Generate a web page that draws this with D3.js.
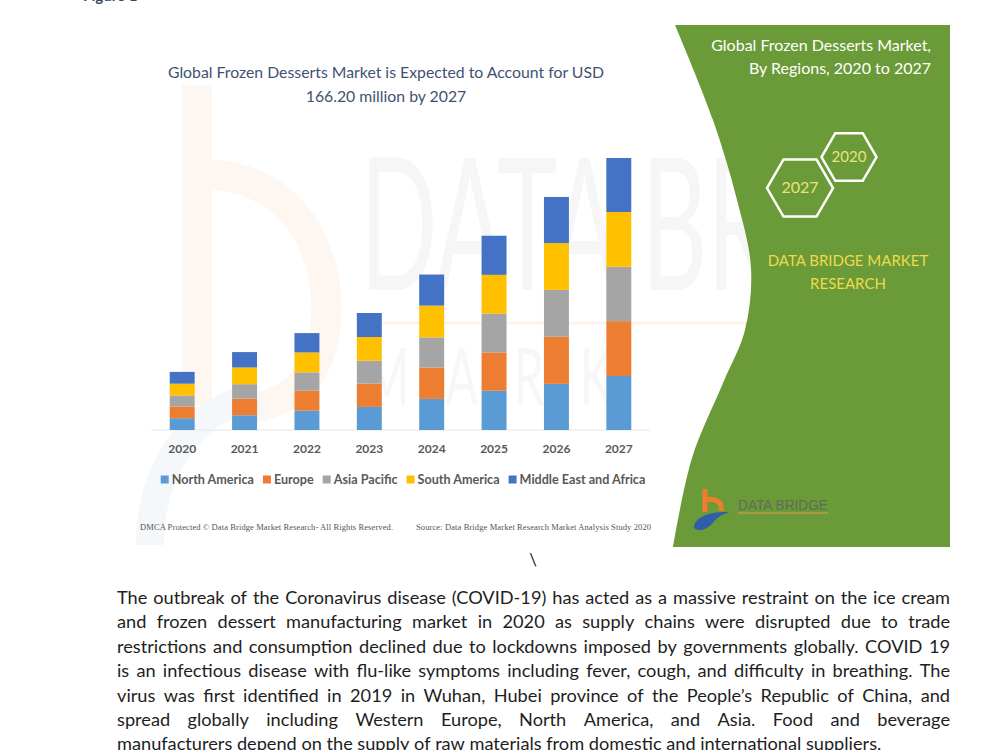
<!DOCTYPE html>
<html lang="en">
  <head>
    <meta charset="UTF-8">
    <title>Global Frozen Desserts Market</title>
    <script src="https://cdn.jsdelivr.net/npm/d3@7"></script>
    <style>
      html, body {
        margin: 0;
        padding: 0;
        background: #fff;
        overflow: hidden;
      }
      svg {
        display: block;
        font-family: Lato, 'Open Sans', sans-serif;
      }
    </style>
  </head>
  <body>
    <svg id="chart" width="1000" height="750"></svg>
    <script>
      // values (USD million, stacked per region)
      const years = ['2020', '2021', '2022', '2023', '2024', '2025', '2026', '2027'];
      const regions = ['North America', 'Europe', 'Asia Pacific', 'South America', 'Middle East and Africa'];
      const regionColors = ['#5b9bd5', '#ed7d31', '#a5a5a5', '#ffc000', '#4472c4'];
      const northAmerica = [7.2, 9.0, 11.8, 14.1, 19.0, 24.0, 28.2, 33.0];
      const europe = [7.2, 10.2, 12.2, 14.3, 19.2, 23.4, 28.8, 33.5];
      const asiaPacific = [6.7, 8.8, 11.2, 13.9, 18.4, 23.7, 28.6, 33.2];
      const southAmerica = [7.2, 10.2, 12.2, 14.5, 19.4, 23.7, 28.6, 33.5];
      const middleEastAfrica = [7.2, 9.4, 11.8, 14.7, 19.0, 23.9, 28.2, 33.0];

      const titleLines = ['Global Frozen Desserts Market is Expected to Account for USD', '166.20 million by 2027'];
      const panelTitle = ['Global Frozen Desserts Market,', 'By Regions, 2020 to 2027'];
      const panelBrand = ['DATA BRIDGE MARKET', 'RESEARCH'];
      const paragraph = [
        'The outbreak of the Coronavirus disease (COVID-19) has acted as a massive restraint on the ice cream',
        'and frozen dessert manufacturing market in 2020 as supply chains were disrupted due to trade',
        'restrictions and consumption declined due to lockdowns imposed by governments globally. COVID 19',
        'is an infectious disease with flu-like symptoms including fever, cough, and difficulty in breathing. The',
        'virus was first identified in 2019 in Wuhan, Hubei province of the People\u2019s Republic of China, and',
        'spread globally including Western Europe, North America, and Asia. Food and beverage',
        'manufacturers depend on the supply of raw materials from domestic and international suppliers.'
      ];

      const svg = d3.select('#chart');
      const series = [northAmerica, europe, asiaPacific, southAmerica, middleEastAfrica];
      const rows = years.map((y, i) => {
        const r = { year: y };
        regions.forEach((reg, k) => { r[reg] = series[k][i]; });
        return r;
      });

      // ---- faint watermark behind the chart
      svg.append('clipPath')
        .attr('id', 'wm-clip')
        .append('rect')
        .attr('x', 0).attr('y', 0).attr('width', 760).attr('height', 560);
      const wm = svg.append('g').attr('clip-path', 'url(#wm-clip)');
      wm.append('path')
        .attr('d', 'M197,85 L197,405 M197,175 C290,170 335,250 325,330 C318,380 290,405 240,410')
        .attr('fill', 'none')
        .attr('stroke', '#fef6f0')
        .attr('stroke-width', 30);
      wm.append('path')
        .attr('d', 'M150,545 C150,470 190,410 260,395')
        .attr('fill', 'none')
        .attr('stroke', '#f5f8fb')
        .attr('stroke-width', 28);
      wm.append('text')
        .attr('transform', 'translate(360,290) scale(0.55,1)')
        .attr('font-size', 185)
        .attr('fill', '#f6f6f6')
        .text('DATA BR');
      wm.append('line')
        .attr('x1', 360).attr('x2', 760).attr('y1', 323).attr('y2', 323)
        .attr('stroke', '#fdf3ea').attr('stroke-width', 3);
      wm.append('text')
        .attr('transform', 'translate(365,405) scale(0.6,1)')
        .attr('font-size', 80)
        .attr('letter-spacing', 60)
        .attr('fill', '#f7f7f7')
        .text('MARK');

      // ---- green side panel
      const edge = [[675, 25], [713, 120], [737, 200], [751, 268], [745, 330], [723, 383], [692, 458], [673, 547]];
      const edgePath = d3.line().curve(d3.curveCatmullRom)(edge);
      svg.append('path')
        .attr('d', edgePath + ' L950,547 L950,25 Z')
        .attr('fill', '#6a9b38');

      // ---- chart title
      svg.append('g')
        .selectAll('text')
        .data(titleLines)
        .join('text')
        .attr('x', 386)
        .attr('y', (d, i) => 78 + i * 24)
        .attr('text-anchor', 'middle')
        .attr('font-size', 15.8)
        .attr('fill', '#3f5272')
        .text(d => d);

      // ---- stacked bars
      const x = d3.scaleBand()
        .domain(years)
        .range([151, 650])
        .paddingInner(0.6)
        .paddingOuter(0.3);
      const y = d3.scaleLinear()
        .domain([0, 166.2])
        .range([430, 158]);
      const color = d3.scaleOrdinal().domain(regions).range(regionColors);
      const stacked = d3.stack().keys(regions)(rows);

      svg.append('line')
        .attr('x1', 151).attr('x2', 650)
        .attr('y1', y(0)).attr('y2', y(0))
        .attr('stroke', '#e6e6e6');

      svg.append('g')
        .selectAll('g')
        .data(stacked)
        .join('g')
        .attr('fill', d => color(d.key))
        .selectAll('rect')
        .data(d => d)
        .join('rect')
        .attr('x', d => x(d.data.year))
        .attr('y', d => y(d[1]))
        .attr('width', x.bandwidth())
        .attr('height', d => y(d[0]) - y(d[1]));

      const xAxis = svg.append('g')
        .attr('transform', `translate(0,${y(0)})`)
        .call(d3.axisBottom(x).tickSize(0).tickPadding(14));
      xAxis.select('.domain').remove();
      xAxis.selectAll('text')
        .attr('font-family', 'Lato, sans-serif')
        .attr('font-size', 12)
        .attr('font-weight', 'bold')
        .attr('fill', '#595959');

      // ---- legend, centred under the bars
      const legend = svg.append('g').attr('transform', 'translate(0,484)');
      const items = legend.selectAll('g')
        .data(regions)
        .join('g');
      items.append('rect')
        .attr('y', -8.5)
        .attr('width', 8)
        .attr('height', 8)
        .attr('fill', d => color(d));
      items.append('text')
        .attr('x', 11)
        .attr('font-size', 12.6)
        .attr('font-weight', 'bold')
        .attr('fill', '#595959')
        .text(d => d);
      const widths = items.select('text').nodes().map(n => 11 + n.getComputedTextLength());
      const legendGap = 9;
      const legendWidth = d3.sum(widths) + legendGap * (widths.length - 1);
      let lx = 403 - legendWidth / 2;
      items.attr('transform', (d, i) => {
        const t = `translate(${lx},0)`;
        lx += widths[i] + legendGap;
        return t;
      });

      // ---- footer notes
      svg.append('text')
        .attr('x', 140).attr('y', 530)
        .attr('font-family', "'Liberation Serif', serif")
        .attr('font-size', 8.5)
        .attr('fill', '#555')
        .attr('textLength', 253)
        .text('DMCA Protected \u00a9 Data Bridge Market Research- All Rights Reserved.');
      svg.append('text')
        .attr('x', 416).attr('y', 530)
        .attr('font-family', "'Liberation Serif', serif")
        .attr('font-size', 8.5)
        .attr('fill', '#555')
        .attr('textLength', 235)
        .text('Source: Data Bridge Market Research Market Analysis Study 2020');

      // ---- panel texts and hexagons
      svg.append('g')
        .selectAll('text')
        .data(panelTitle)
        .join('text')
        .attr('x', 931)
        .attr('y', (d, i) => 51 + i * 23)
        .attr('text-anchor', 'end')
        .attr('font-size', 16)
        .attr('fill', '#fff')
        .text(d => d);

      const hexes = [
        { label: '2020', cx: 849, cy: 157, r: 27.5, size: 15 },
        { label: '2027', cx: 800, cy: 188, r: 33, size: 16 }
      ];
      const hexPoints = h => d3.range(6).map(k => {
        const a = Math.PI / 3 * k;
        return [h.cx + h.r * Math.cos(a), h.cy + h.r * Math.sin(a)];
      });
      const hex = svg.append('g')
        .selectAll('g')
        .data(hexes)
        .join('g');
      hex.append('polygon')
        .attr('points', d => hexPoints(d).join(' '))
        .attr('fill', 'none')
        .attr('stroke', '#fff')
        .attr('stroke-width', 2.5);
      hex.append('text')
        .attr('x', d => d.cx)
        .attr('y', d => d.cy + 5)
        .attr('text-anchor', 'middle')
        .attr('font-size', d => d.size)
        .attr('fill', '#ece27a')
        .text(d => d.label);

      svg.append('g')
        .selectAll('text')
        .data(panelBrand)
        .join('text')
        .attr('x', 848)
        .attr('y', (d, i) => 266 + i * 23)
        .attr('text-anchor', 'middle')
        .attr('font-size', 15)
        .attr('fill', '#efd94c')
        .text(d => d);

      // ---- small logo in the panel
      const logo = svg.append('g');
      logo.append('path')
        .attr('d', 'M705,489 L705,512 M705,500 C716,497 723,503 721,511')
        .attr('fill', 'none')
        .attr('stroke', '#ee7d2c')
        .attr('stroke-width', 5);
      logo.append('path')
        .attr('d', 'M694,528 C694,516 712,511 730,512 C722,514 716,518 712,524 C706,530 698,532 694,528 Z')
        .attr('fill', '#2f5ea8');
      logo.append('text')
        .attr('x', 738).attr('y', 510)
        .attr('font-family', "'Liberation Sans', sans-serif")
        .attr('font-size', 15)
        .attr('fill', '#5f6b5c')
        .attr('textLength', 90)
        .attr('lengthAdjust', 'spacingAndGlyphs')
        .text('DATA BRIDGE');
      logo.append('line')
        .attr('x1', 738).attr('x2', 828).attr('y1', 513).attr('y2', 513)
        .attr('stroke', '#e39a4a').attr('stroke-width', 1.2);
      logo.append('text')
        .attr('x', 738).attr('y', 520)
        .attr('font-size', 4.5)
        .attr('fill', '#6f8a78')
        .attr('textLength', 90)
        .text('MARKET RESEARCH');

      // ---- document text around the figure
      svg.append('text')
        .attr('x', 83).attr('y', 1)
        .attr('font-size', 15)
        .attr('font-weight', 'bold')
        .attr('fill', '#3a4a5e')
        .text('Figure 1');
      svg.append('text')
        .attr('x', 533).attr('y', 566)
        .attr('text-anchor', 'middle')
        .attr('font-size', 17)
        .attr('fill', '#222')
        .text('\\');

      const textLeft = 117;
      const textWidth = 833;
      const para = svg.append('g')
        .attr('font-size', 18.2)
        .attr('fill', '#1e1e1e');
      paragraph.forEach((line, i) => {
        const words = line.split(' ');
        const ty = 604 + i * 24.4;
        const t = para.append('g')
          .selectAll('text')
          .data(words)
          .join('text')
          .attr('y', ty)
          .text(d => d);
        const w = t.nodes().map(n => n.getComputedTextLength());
        const last = i === paragraph.length - 1;
        const gap = last ? 4.6 : (textWidth - d3.sum(w)) / (words.length - 1);
        let cx = textLeft;
        t.attr('x', (d, j) => {
          const px = cx;
          cx += w[j] + gap;
          return px;
        });
      });
    </script>
  </body>
</html>
